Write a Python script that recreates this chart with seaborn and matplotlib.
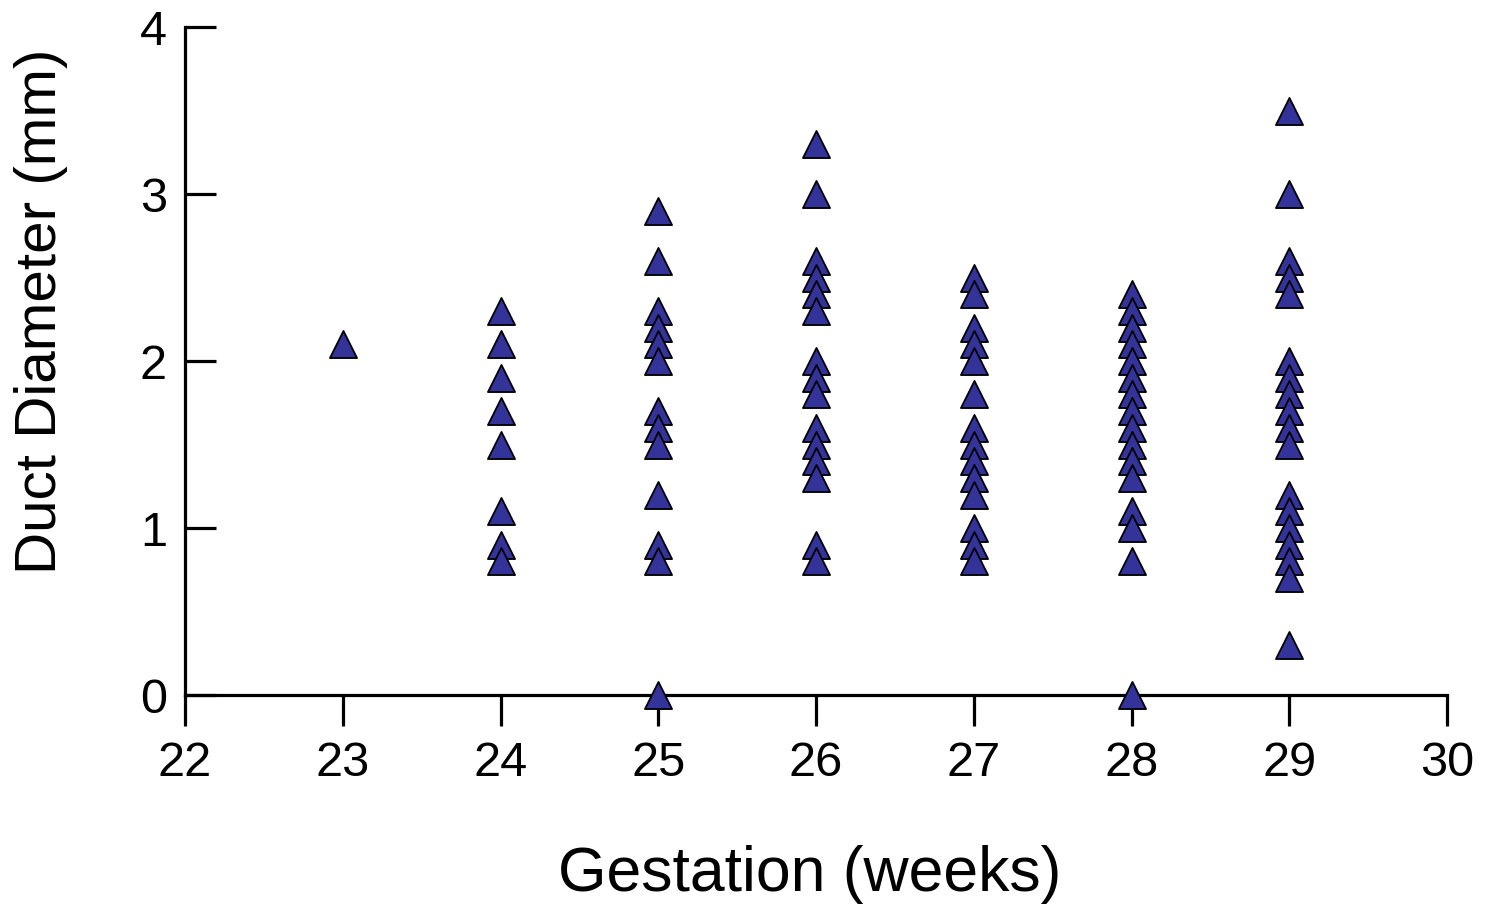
import numpy as np
import pandas as pd
import matplotlib
matplotlib.use("Agg")
import matplotlib.pyplot as plt
import seaborn as sns

# Duct diameter (mm) per gestational week
weeks = [23, 24, 25, 26, 27, 28, 29]
diam_23 = [2.1]
diam_24 = [2.3, 2.1, 1.9, 1.7, 1.5, 1.1, 0.9, 0.8]
diam_25 = [2.9, 2.6, 2.3, 2.2, 2.1, 2.0, 1.7, 1.6, 1.5, 1.2, 0.9, 0.8, 0.0]
diam_26 = [3.3, 3.0, 2.6, 2.5, 2.4, 2.3, 2.0, 1.9, 1.8, 1.6, 1.5, 1.4, 1.3, 0.9, 0.8]
diam_27 = [2.5, 2.4, 2.2, 2.1, 2.0, 1.8, 1.6, 1.5, 1.4, 1.3, 1.2, 1.0, 0.9, 0.8]
diam_28 = [2.4, 2.3, 2.2, 2.1, 2.0, 1.9, 1.8, 1.7, 1.6, 1.5, 1.4, 1.3, 1.1, 1.0, 0.8, 0.0]
diam_29 = [3.5, 3.0, 2.6, 2.5, 2.4, 2.0, 1.9, 1.8, 1.7, 1.6, 1.5, 1.2, 1.1, 1.0, 0.9, 0.8, 0.7, 0.3]

x_ticks = [22, 23, 24, 25, 26, 27, 28, 29, 30]
y_ticks = [0, 1, 2, 3, 4]

columns = [diam_23, diam_24, diam_25, diam_26, diam_27, diam_28, diam_29]
df = pd.DataFrame({
    "week": np.concatenate([[w] * len(c) for w, c in zip(weeks, columns)]),
    "diameter": np.concatenate(columns),
})

sns.set_style("white")
plt.rcParams["font.family"] = ["Liberation Sans", "DejaVu Sans"]
plt.rcParams["text.color"] = "black"
plt.rcParams["axes.labelcolor"] = "black"
plt.rcParams["xtick.color"] = "black"
plt.rcParams["ytick.color"] = "black"

fig = plt.figure(figsize=(14.93, 9.05), dpi=100)
ax = fig.add_axes([185 / 1493, 1 - 695 / 905, 1262 / 1493, 668 / 905])

sns.scatterplot(data=df, x="week", y="diameter", marker="^", s=380,
                color="#333399", edgecolor="black", linewidth=1.3,
                ax=ax, zorder=3, clip_on=False, legend=False)

ax.set_xlim(22, 30)
ax.set_ylim(0, 4)
ax.set_xticks(x_ticks)
ax.set_yticks(y_ticks)

for side in ["top", "right"]:
    ax.spines[side].set_visible(False)
for side in ["left", "bottom"]:
    ax.spines[side].set_linewidth(2.3)
    ax.spines[side].set_color("black")

ax.tick_params(axis="x", direction="out", length=22, width=2.3,
               labelsize=35, pad=11, bottom=True)
ax.tick_params(axis="y", direction="in", length=22, width=2.3,
               labelsize=35, pad=13, left=True)

ax.set_xlabel("Gestation (weeks)", fontsize=45)
ax.set_ylabel("Duct Diameter (mm)", fontsize=42)
ax.xaxis.set_label_coords(0.495, -0.225)
ax.yaxis.set_label_coords(-0.093, 0.575)

fig.savefig("out.png", dpi=100)
